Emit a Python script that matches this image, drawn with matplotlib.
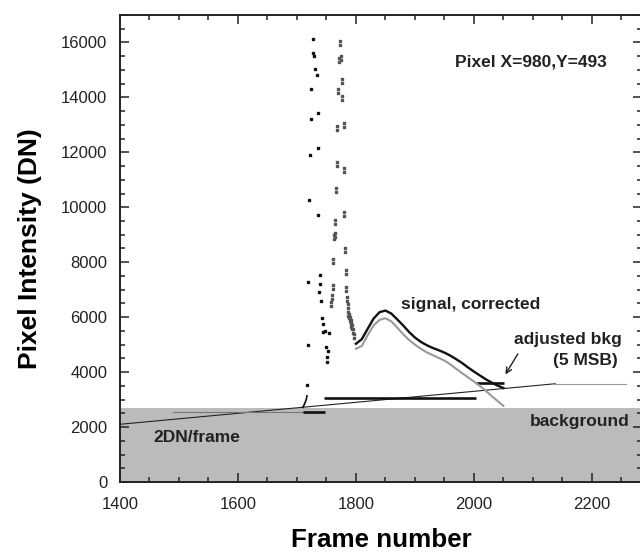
import matplotlib
matplotlib.use("Agg")
import matplotlib.pyplot as plt
from matplotlib.ticker import MultipleLocator

plt.rcParams['font.family'] = ['Liberation Sans', 'DejaVu Sans']

# ---- data ----
# saturated / noisy samples, first cluster (black dots)
dots1_x = [1726.5, 1726.5, 1729, 1731, 1733.5, 1724, 1735, 1723, 1735, 1722, 1720.6, 1736,
           1719.5, 1739, 1739, 1738, 1740.5, 1743, 1745, 1747.6, 1744, 1754.6, 1750, 1752,
           1751, 1751, 1718, 1717]
dots1_y = [16110, 15623, 15500, 15015, 14808, 14322, 13447, 13228, 12170, 11891, 10274, 9702,
           7270, 7538, 7210, 6906, 6602, 5970, 5750, 5508, 5447, 5410, 4900, 4778,
           4535, 4353, 4985, 3526]
# second cluster (grey paired dots)
dots2_x = [1772.7, 1774, 1772, 1775.7, 1770, 1777, 1768.6, 1779, 1767.5, 1780, 1766, 1780,
           1765, 1764, 1763, 1781.5, 1761.6, 1782.7, 1760.4, 1783, 1759, 1785, 1758, 1786,
           1787, 1788.5, 1790, 1791, 1792, 1793, 1795, 1797]
dots2_y = [15988, 15416, 15356, 14602, 14225, 13994, 12900, 12985, 11563, 11344, 10614, 9739,
           9459, 8973, 8912, 8450, 8061, 7635, 7112, 7027, 6723, 6663, 6480, 6420,
           6115, 6055, 5933, 5812, 5726, 5629, 5508, 5325]

# signal curves
sig_x = [1800, 1810, 1820, 1830, 1840, 1850, 1860, 1870, 1880, 1890, 1900, 1910, 1920,
         1930, 1940, 1950, 1960, 1970, 1980, 1990, 2000, 2010, 2020, 2030, 2040, 2050]
sig_corrected = [5030, 5200, 5580, 5950, 6180, 6240, 6130, 5920, 5700, 5460, 5260, 5100, 4980,
                 4880, 4800, 4710, 4600, 4470, 4330, 4170, 4020, 3880, 3740, 3620, 3510, 3420]
sig_raw = [4850, 4950, 5350, 5700, 5900, 5960, 5850, 5620, 5380, 5170, 5000, 4850, 4720,
           4620, 4520, 4420, 4280, 4120, 3960, 3810, 3660, 3500, 3320, 3130, 2950, 2770]

# rising edge before saturation
rise_x = [1710, 1712, 1714, 1716, 1717]
rise_y = [2711, 2800, 2900, 3020, 3137]

# background level and 2DN/frame ramp
background_level = 2700
ramp_x = [1400, 2138]
ramp_y = [2100, 3576]
ramp_flat_x = [2138, 2258]
ramp_flat_y = [3576, 3576]
pre_bkg_x = [1490, 1716]
pre_bkg_y = [2553, 2553]

# adjusted background segments (5 MSB)
seg_x0 = [1710, 1746, 2003]
seg_x1 = [1748, 2003, 2051]
seg_y = [2540, 3052, 3587]

# ---- figure ----
fig = plt.figure(figsize=(6.4, 5.54), dpi=100)
ax = fig.add_axes([0.1875, 0.130, 0.8156, 0.843])

ax.axhspan(0, background_level, color='#bbbbbb', lw=0, zorder=0)

ax.plot(ramp_x, ramp_y, color='#222222', lw=0.8, zorder=2)
ax.plot(ramp_flat_x, ramp_flat_y, color='#999999', lw=0.8, zorder=2)
ax.plot(pre_bkg_x, pre_bkg_y, color='#777777', lw=0.8, zorder=2)

ax.hlines(seg_y, seg_x0, seg_x1, colors='#111111', lw=1.9, zorder=3)

ax.plot(sig_x, sig_raw, color='#999999', lw=1.5, zorder=3)
ax.plot(sig_x, sig_corrected, color='#111111', lw=1.7, zorder=4)
ax.plot(rise_x, rise_y, color='#111111', lw=1.2, zorder=4)

ax.plot(dots1_x, dots1_y, ls='none', marker='s', ms=1.8, color='#111111', zorder=5)
ax.plot(dots2_x, dots2_y, ls='none', marker='$:$', ms=4, color='#555555', zorder=5)

ax.set_xlim(1400, 2285)
ax.set_ylim(0, 17000)
ax.xaxis.set_major_locator(MultipleLocator(200))
ax.xaxis.set_minor_locator(MultipleLocator(50))
ax.yaxis.set_major_locator(MultipleLocator(2000))
ax.yaxis.set_minor_locator(MultipleLocator(500))
ax.tick_params(which='both', direction='in', top=True, right=True, width=1.1,
               color='#222222', labelsize=12, labelcolor='#222222')
ax.tick_params(which='major', length=6.5)
ax.tick_params(axis='x', which='major', pad=11)
ax.tick_params(axis='y', which='major', pad=9)
ax.tick_params(which='minor', length=3.5)
for s in ax.spines.values():
    s.set_linewidth(1.4)
    s.set_color('#222222')

ax.set_xlabel('Frame number', fontsize=18.7, fontweight='bold', labelpad=11)
ax.set_ylabel('Pixel Intensity (DN)', fontsize=19, fontweight='bold', labelpad=14)

tkw = dict(fontsize=12.5, fontweight='bold', color='#222222')
ax.text(2097, 15300, 'Pixel X=980,Y=493', ha='center', va='center', **tkw)
ax.text(1877, 6456, 'signal, corrected', ha='left', va='center', **tkw)
ax.text(2251, 5204, 'adjusted bkg', ha='right', va='center', **tkw)
ax.text(2244, 4413, '(5 MSB)', ha='right', va='center', **tkw)
ax.text(2264, 2188, 'background', ha='right', va='center', **tkw)
ax.text(1456, 1617, '2DN/frame', ha='left', va='center', **tkw)
ax.annotate('', xy=(2051, 3830), xytext=(2077, 4750),
            arrowprops=dict(arrowstyle='->', color='#222222', lw=1.0))

fig.savefig('out.png', dpi=100)
